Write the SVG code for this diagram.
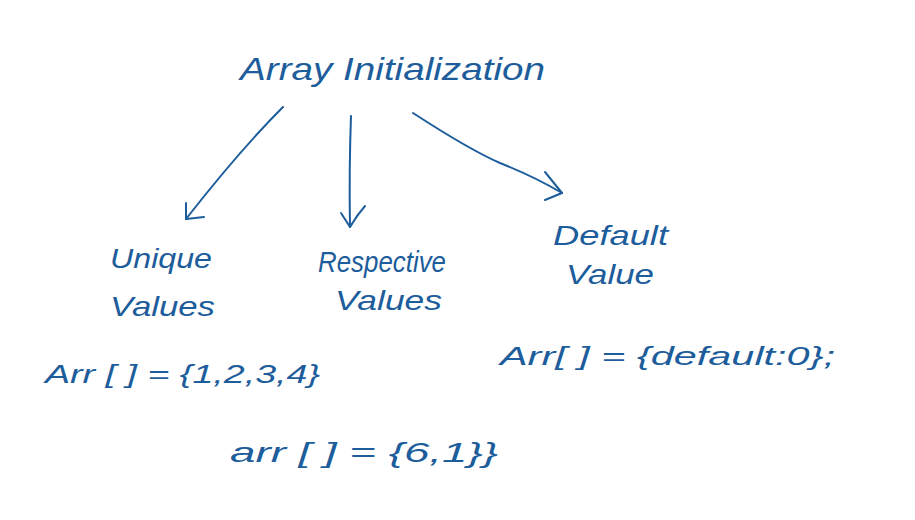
<svg xmlns="http://www.w3.org/2000/svg" width="915" height="520" viewBox="0 0 915 520">
<style>
text{font-family:"Liberation Sans",Arial,sans-serif;fill:#1d5d9b;font-style:italic}
.c{fill:none;stroke:#1d5d9b;stroke-width:2;stroke-linecap:round;stroke-linejoin:round}
</style>
<rect width="915" height="520" fill="#ffffff"/>
<g id="root"><text x="240" y="80" font-size="32" textLength="305" lengthAdjust="spacingAndGlyphs">Array Initialization</text></g>
<g id="unique"><text x="110" y="268" font-size="28" textLength="102" lengthAdjust="spacingAndGlyphs">Unique</text><text x="110" y="316" font-size="28" textLength="105" lengthAdjust="spacingAndGlyphs">Values</text></g>
<g id="respective"><text x="318" y="272" font-size="30" textLength="128" lengthAdjust="spacingAndGlyphs">Respective</text><text x="335" y="310" font-size="28" textLength="107" lengthAdjust="spacingAndGlyphs">Values</text></g>
<g id="default"><text x="553" y="245" font-size="28" textLength="115" lengthAdjust="spacingAndGlyphs">Default</text><text x="566" y="284" font-size="28" textLength="88" lengthAdjust="spacingAndGlyphs">Value</text></g>
<g id="ex1"><text x="45" y="383" font-size="26" textLength="275" lengthAdjust="spacingAndGlyphs">Arr [ ] = {1,2,3,4}</text></g>
<g id="ex2"><text x="500" y="365" font-size="26" textLength="335" lengthAdjust="spacingAndGlyphs">Arr[ ] = {default:0};</text></g>
<g id="ex3"><text x="230" y="462" font-size="28" textLength="268" lengthAdjust="spacingAndGlyphs">arr [ ] = {6,1}}</text></g>
<g id="connectors">
<path class="c" d="M283 107 Q240 150 186 219"/>
<path class="c" d="M186 203 L186 219 L204 217"/>
<path class="c" d="M351 116 Q349 170 350 227"/>
<path class="c" d="M341 213 L350 227 Q357 215 365 206"/>
<path class="c" d="M413 113 Q470 150 500 163 Q535 177 562 193"/>
<path class="c" d="M545 172 L562 193 L545 200"/>
</g>
</svg>
